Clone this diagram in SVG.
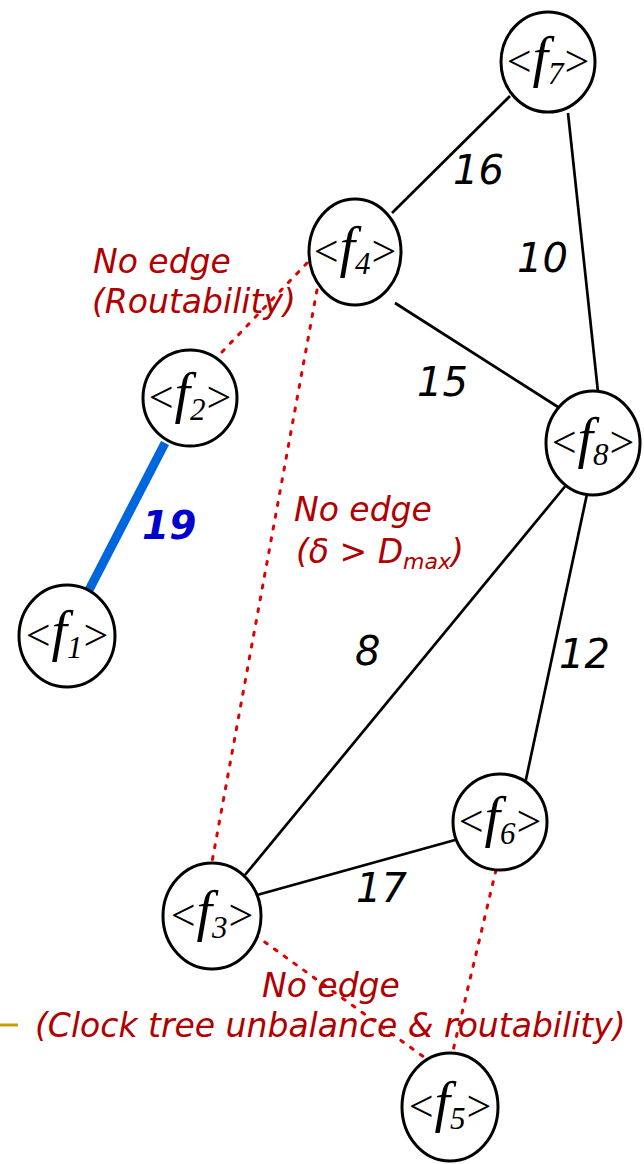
<svg xmlns="http://www.w3.org/2000/svg" width="644" height="1164" viewBox="0 0 644 1164">
<style>
.node{fill:#fff;stroke:#000;stroke-width:3}
.lbl{font-family:"Liberation Serif",serif;font-size:44px;fill:#000}
.f{font-style:italic;font-size:56px}
.sub{font-style:italic;font-size:31px}
.edge{stroke:#000;stroke-width:2.7;fill:none}
.no{stroke:#e00000;stroke-width:3;stroke-dasharray:3 9;stroke-linecap:round;fill:none}
.w{font-family:"DejaVu Sans",Verdana,sans-serif;font-style:italic;font-size:40px;fill:#000}
.red{font-family:"DejaVu Sans",Verdana,sans-serif;font-style:italic;font-size:33px;fill:#b00000}
</style>
<g id="connectors">
<line class="edge" x1="510" y1="96" x2="392" y2="213"/>
<line class="edge" x1="568" y1="113" x2="598" y2="392"/>
<line class="edge" x1="395" y1="303" x2="558" y2="407"/>
<line class="edge" x1="567" y1="484" x2="245" y2="875"/>
<line class="edge" x1="587" y1="494" x2="525" y2="784"/>
<line class="edge" x1="455" y1="840" x2="257" y2="895"/>
<line x1="165" y1="443" x2="89" y2="590" stroke="#0066dd" stroke-width="9"/>
<line class="no" x1="307" y1="263" x2="222" y2="352"/>
<line class="no" x1="317" y1="290" x2="212" y2="862"/>
<line class="no" x1="255" y1="935" x2="428" y2="1060"/>
<line class="no" x1="496" y1="870" x2="452" y2="1055"/>
</g>
<line x1="0" y1="1025" x2="18" y2="1025" stroke="#c8a000" stroke-width="3"/>
<g id="f7"><ellipse class="node" cx="548" cy="62" rx="47" ry="50"/><text class="lbl" x="548" y="76" text-anchor="middle">&lt;<tspan class="f" dx="1">f</tspan><tspan class="sub" dy="8">7</tspan><tspan dy="-8" dx="1">&gt;</tspan></text></g>
<g id="f4"><ellipse class="node" cx="355" cy="252" rx="46" ry="53"/><text class="lbl" x="355" y="266" text-anchor="middle">&lt;<tspan class="f" dx="1">f</tspan><tspan class="sub" dy="8">4</tspan><tspan dy="-8" dx="1">&gt;</tspan></text></g>
<g id="f2"><ellipse class="node" cx="190" cy="398" rx="47" ry="48"/><text class="lbl" x="190" y="412" text-anchor="middle">&lt;<tspan class="f" dx="1">f</tspan><tspan class="sub" dy="8">2</tspan><tspan dy="-8" dx="1">&gt;</tspan></text></g>
<g id="f1"><ellipse class="node" cx="67" cy="636" rx="48" ry="51"/><text class="lbl" x="67" y="650" text-anchor="middle">&lt;<tspan class="f" dx="1">f</tspan><tspan class="sub" dy="8">1</tspan><tspan dy="-8" dx="1">&gt;</tspan></text></g>
<g id="f8"><ellipse class="node" cx="593" cy="443" rx="47" ry="52"/><text class="lbl" x="593" y="457" text-anchor="middle">&lt;<tspan class="f" dx="1">f</tspan><tspan class="sub" dy="8">8</tspan><tspan dy="-8" dx="1">&gt;</tspan></text></g>
<g id="f6"><ellipse class="node" cx="500" cy="822" rx="47" ry="48"/><text class="lbl" x="500" y="836" text-anchor="middle">&lt;<tspan class="f" dx="1">f</tspan><tspan class="sub" dy="8">6</tspan><tspan dy="-8" dx="1">&gt;</tspan></text></g>
<g id="f3"><ellipse class="node" cx="212" cy="916" rx="49" ry="53"/><text class="lbl" x="212" y="930" text-anchor="middle">&lt;<tspan class="f" dx="1">f</tspan><tspan class="sub" dy="8">3</tspan><tspan dy="-8" dx="1">&gt;</tspan></text></g>
<g id="f5"><ellipse class="node" cx="450" cy="1107" rx="48" ry="54"/><text class="lbl" x="450" y="1121" text-anchor="middle">&lt;<tspan class="f" dx="1">f</tspan><tspan class="sub" dy="8">5</tspan><tspan dy="-8" dx="1">&gt;</tspan></text></g>
<g id="weights">
<text class="w" x="453" y="184">16</text>
<text class="w" x="517" y="272">10</text>
<text class="w" x="417" y="396">15</text>
<text class="w" x="355" y="665">8</text>
<text class="w" x="559" y="668">12</text>
<text class="w" x="356" y="902">17</text>
<text x="142" y="539" font-family="DejaVu Sans,Verdana,sans-serif" font-style="italic" font-weight="bold" font-size="39" fill="#0000cc">19</text>
</g>
<g id="notes">
<text class="red" x="93" y="273">No edge</text>
<text class="red" x="92" y="313">(Routability)</text>
<text class="red" x="294" y="521">No edge</text>
<text class="red" x="296" y="563">(δ &gt; D<tspan font-size="22" dy="6">max</tspan><tspan dy="-6">)</tspan></text>
<text class="red" x="262" y="997">No edge</text>
<text class="red" x="35" y="1037">(Clock tree unbalance &amp; routability)</text>
</g>
</svg>
